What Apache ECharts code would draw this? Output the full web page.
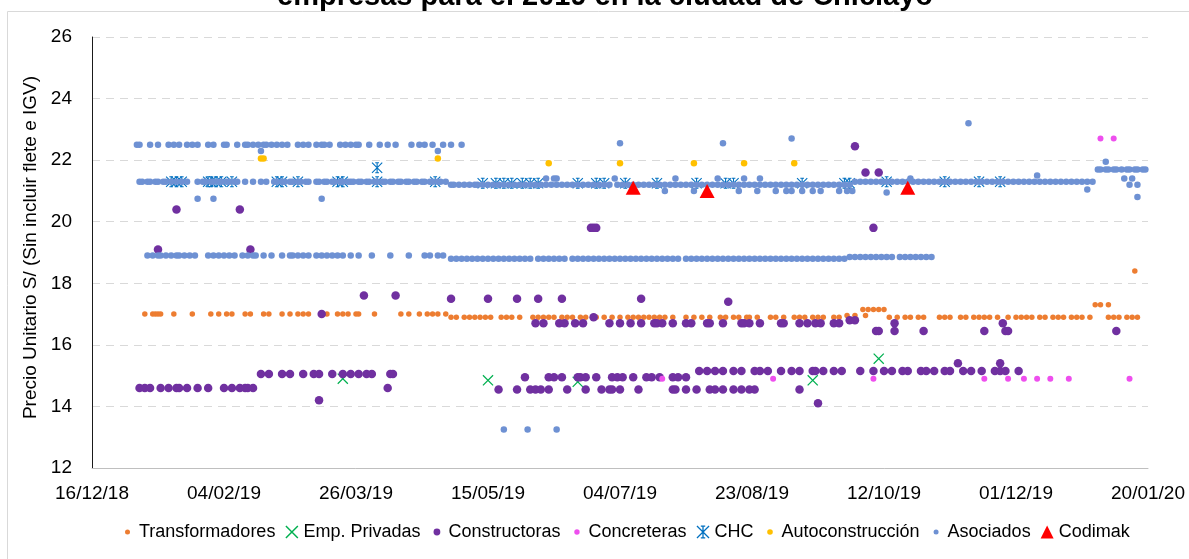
<!DOCTYPE html>
<html>
<head>
<meta charset="utf-8">
<script src="https://cdn.jsdelivr.net/npm/echarts@6/dist/echarts.min.js"></script>
<style>
  html, body { margin: 0; padding: 0; background: #fff; }
  #chart { width: 1189px; height: 559px; }
</style>
</head>
<body>
<div id="chart"></div>
<script>
// [día del año 2019 (1 = 01/01/19), precio S/]
const transformadores = [
  [5,17],[8,17],[9,17],[10,17],[11,17],[16,17],[23,17],[30,17],[33,17],[36,17],[38,17],[43,17],[45,17],[50,17],[52,17],
  [57,17],[60,17],[63,17],[65,17],[67,17],[74,17],[78,17],[80,17],[82,17],[85,17],[86,17],[92,17],[102,17],[105,17],
  [109,17],[112,17],[114,17],[116,17],[119,17],
  [121,16.9],[123,16.9],[126,16.9],[128,16.9],[130,16.9],[132,16.9],[134,16.9],[136,16.9],[140,16.9],[142,16.9],[144,16.9],
  [147,16.9],[152,16.9],[154,16.9],[156,16.9],[158,16.9],[160,16.9],[163,16.9],[165,16.9],[167,16.9],[170,16.9],[172,16.9],
  [176,16.9],[179,16.9],[182,16.9],[185,16.9],[188,16.9],[190,16.9],[192,16.9],[194,16.9],[196,16.9],[198,16.9],[200,16.9],
  [202,16.9],[205,16.9],[210,16.9],[213,16.9],[216,16.9],[219,16.9],[223,16.9],[225,16.9],[228,16.9],[230,16.9],[233,16.9],
  [234,16.9],[237,16.9],[242,16.9],[244,16.9],[247,16.9],[251,16.9],[253,16.9],[255,16.9],[258,16.9],[260,16.9],[262,16.9],
  [266,16.9],[268,16.9],[271,16.95],[274,16.95],[278,16.95],
  [277,17.15],[279,17.15],[281,17.15],[283,17.15],[285,17.15],
  [287,16.9],[290,16.9],[293,16.9],[295,16.9],[298,16.9],[300,16.9],[306,16.9],[308,16.9],[310,16.9],[314,16.9],[316,16.9],
  [319,16.9],[321,16.9],[323,16.9],[325,16.9],[328,16.9],[332,16.9],[335,16.9],[337,16.9],[339,16.9],[341,16.9],[344,16.9],
  [346,16.9],[349,16.9],[351,16.9],[353,16.9],[356,16.9],[358,16.9],[360,16.9],[363,16.9],[370,16.9],[372,16.9],[374,16.9],
  [377,16.9],[379,16.9],[381,16.9],
  [365,17.3],[367,17.3],[370,17.3],[380,18.4]
];
const empPrivadas = [[80,14.9],[135,14.85],[169,14.8],[258,14.85],[283,15.55]];
const constructoras = [
  [10,19.1],[45,19.1],[17,20.4],[41,20.4],[88,17.6],[100,17.6],[121,17.5],[135,17.5],[146,17.5],[154,17.5],[163,17.5],
  [193,17.5],[226,17.4],[72,17],[175,16.9],
  [3,14.6],[5,14.6],[7,14.6],[11,14.6],[14,14.6],[17,14.6],[18,14.6],[21,14.6],[25,14.6],[29,14.6],[35,14.6],[38,14.6],
  [41,14.6],[43,14.6],[44,14.6],[46,14.6],[97,14.6],
  [49,15.05],[52,15.05],[57,15.05],[60,15.05],[65,15.05],[69,15.05],[71,15.05],[76,15.05],[80,15.05],[83,15.05],[86,15.05],
  [89,15.05],[91,15.05],[98,15.05],[99,15.05],[71,14.2],
  [153,16.7],[156,16.7],[162,16.7],[164,16.7],[168,16.7],[171,16.7],[181,16.7],[185,16.7],[189,16.7],[193,16.7],[198,16.7],
  [199,16.7],[201,16.7],[205,16.7],[210,16.7],[212,16.7],[218,16.7],[219,16.7],[224,16.7],[231,16.7],[232,16.7],[234,16.7],
  [238,16.7],[246,16.7],[247,16.7],[253,16.7],[256,16.7],[259,16.7],[261,16.7],[266,16.7],[268,16.7],[272,16.8],[274,16.8],
  [282,16.45],[283,16.45],[289,16.45],[300,16.45],[323,16.45],[331,16.45],[332,16.45],[373,16.45],[289,16.7],[330,16.7],
  [215,15.15],[218,15.15],[221,15.15],[224,15.15],[228,15.15],[231,15.15],[236,15.15],[238,15.15],[241,15.15],[246,15.15],
  [250,15.15],[253,15.15],[258,15.15],[259,15.15],[262,15.15],[266,15.15],[269,15.15],[276,15.15],[281,15.15],[285,15.15],
  [288,15.15],[292,15.15],[294,15.15],[299,15.15],[301,15.15],[304,15.15],[308,15.15],[310,15.15],[315,15.15],[318,15.15],
  [322,15.15],[327,15.15],[329,15.15],[331,15.15],[336,15.15],[313,15.4],[329,15.4],
  [149,14.95],[158,14.95],[160,14.95],[163,14.95],[169,14.95],[170,14.95],[172,14.95],[176,14.95],[182,14.95],[184,14.95],
  [186,14.95],[190,14.95],[195,14.95],[197,14.95],[200,14.95],[205,14.95],[207,14.95],[210,14.95],
  [139,14.55],[146,14.55],[151,14.55],[153,14.55],[155,14.55],[158,14.55],[165,14.55],[172,14.55],[178,14.55],[181,14.55],
  [182,14.55],[185,14.55],[192,14.55],[205,14.55],[206,14.55],[210,14.55],[214,14.55],[219,14.55],[221,14.55],[224,14.55],
  [228,14.55],[231,14.55],[234,14.55],[236,14.55],[253,14.55],[260,14.1],
  [174,19.8],[175,19.8],[176,19.8],[281,19.8],[274,22.45],[278,21.6],[283,21.6]
];
const concreteras = [
  [201,14.9],[243,14.9],[281,14.9],[323,14.9],[332,14.9],[338,14.9],[343,14.9],[348,14.9],[355,14.9],[378,14.9],
  [367,22.7],[372,22.7]
];
const chc = [
  [15,21.3],[17,21.3],[19,21.3],[29,21.3],[30,21.3],[32,21.3],[34,21.3],[38,21.3],[55,21.3],[57,21.3],[63,21.3],[78,21.3],
  [80,21.3],[93,21.3],[93,21.75],[115,21.3],
  [133,21.25],[138,21.25],[141,21.25],[144,21.25],[148,21.25],[151,21.25],[154,21.25],[169,21.25],[176,21.25],[179,21.25],
  [187,21.25],[199,21.25],[214,21.25],[225,21.25],[228,21.25],[254,21.25],[270,21.25],[272,21.25],
  [286,21.3],[308,21.3],[321,21.3],[329,21.3]
];
const autoconstruccion = [[49,22.05],[50,22.05],[116,22.05],[158,21.9],[185,21.9],[213,21.9],[232,21.9],[251,21.9]];
const asociados = [
  [2,22.5],[3,22.5],[7,22.5],[10,22.5],[14,22.5],[16,22.5],[18,22.5],[21,22.5],[23,22.5],[25,22.5],[29,22.5],[31,22.5],
  [35,22.5],[36,22.5],[40,22.5],[43,22.5],[44,22.5],[46,22.5],[48,22.5],[50,22.5],[51,22.5],[53,22.5],[55,22.5],[57,22.5],
  [59,22.5],[63,22.5],[65,22.5],[67,22.5],[70,22.5],[72,22.5],[73,22.5],[75,22.5],[79,22.5],[81,22.5],[83,22.5],[85,22.5],
  [86,22.5],[90,22.5],[94,22.5],[97,22.5],[100,22.5],[106,22.5],[109,22.5],[111,22.5],[114,22.5],[118,22.5],[121,22.5],
  [125,22.5],[49,22.3],[116,22.3],[25,20.75],[31,20.75],[72,20.75],
  [3,21.3],[4,21.3],[6,21.3],[7,21.3],[9,21.3],[10,21.3],[12,21.3],[13,21.3],[15,21.3],[17,21.3],[19,21.3],[21,21.3],
  [25,21.3],[27,21.3],[28,21.3],[30,21.3],[31,21.3],[33,21.3],[34,21.3],[36,21.3],[37,21.3],[39,21.3],[40,21.3],[43,21.3],
  [46,21.3],[49,21.3],[51,21.3],[54,21.3],[55,21.3],[57,21.3],[58,21.3],[60,21.3],[61,21.3],[63,21.3],[64,21.3],[66,21.3],
  [67,21.3],[70,21.3],[71,21.3],[73,21.3],[74,21.3],[76,21.3],[77,21.3],[79,21.3],[80,21.3],[82,21.3],[83,21.3],[84,21.3],
  [86,21.3],[87,21.3],[89,21.3],[90,21.3],[92,21.3],[93,21.3],[95,21.3],[96,21.3],[98,21.3],[99,21.3],[101,21.3],[102,21.3],
  [104,21.3],[105,21.3],[107,21.3],[108,21.3],[110,21.3],[111,21.3],[113,21.3],[114,21.3],[116,21.3],[117,21.3],[119,21.3],
  [121,21.2],[122,21.2],[124,21.2],[126,21.2],[128,21.2],[130,21.2],[131,21.2],[133,21.2],[135,21.2],[137,21.2],[139,21.2],
  [141,21.2],[143,21.2],[145,21.2],[147,21.2],[149,21.2],[151,21.2],[153,21.2],[155,21.2],[157,21.2],[159,21.2],[161,21.2],
  [163,21.2],[165,21.2],[167,21.2],[169,21.2],[171,21.2],[173,21.2],[175,21.2],[177,21.2],[179,21.2],[181,21.2],[184,21.2],
  [186,21.2],[188,21.2],[190,21.2],[192,21.2],[194,21.2],[196,21.2],[198,21.2],[200,21.2],[202,21.2],[204,21.2],[206,21.2],
  [208,21.2],[210,21.2],[212,21.2],[214,21.2],[216,21.2],[218,21.2],[220,21.2],[222,21.2],[224,21.2],[226,21.2],[228,21.2],
  [230,21.2],[232,21.2],[234,21.2],[236,21.2],[238,21.2],[240,21.2],[242,21.2],[244,21.2],[246,21.2],[248,21.2],[250,21.2],
  [252,21.2],[254,21.2],[256,21.2],[258,21.2],[260,21.2],[262,21.2],[264,21.2],[266,21.2],[268,21.2],[270,21.2],[272,21.2],
  [157,21.4],[160,21.4],[161,21.4],[183,21.4],[206,21.4],[222,21.4],[232,21.4],[238,21.4],[295,21.4],[376,21.4],[379,21.4],
  [202,21],[213,21],[230,21],[237,21],[244,21],[248,21],[250,21],[254,21],[258,21],[261,21],[268,21],[271,21],[273,21],
  [286,20.95],[362,21.05],[185,22.55],[224,22.55],[250,22.7],[317,23.2],[343,21.5],[369,21.95],
  [274,21.3],[276,21.3],[278,21.3],[280,21.3],[282,21.3],[284,21.3],[286,21.3],[288,21.3],[290,21.3],[292,21.3],[294,21.3],
  [296,21.3],[298,21.3],[300,21.3],[302,21.3],[304,21.3],[306,21.3],[308,21.3],[310,21.3],[312,21.3],[314,21.3],[316,21.3],
  [318,21.3],[320,21.3],[322,21.3],[324,21.3],[326,21.3],[328,21.3],[330,21.3],[332,21.3],[334,21.3],[336,21.3],[338,21.3],
  [340,21.3],[342,21.3],[344,21.3],[346,21.3],[348,21.3],[350,21.3],[352,21.3],[354,21.3],[356,21.3],[358,21.3],[360,21.3],
  [362,21.3],[364,21.3],
  [366,21.7],[367,21.7],[369,21.7],[370,21.7],[372,21.7],[373,21.7],[375,21.7],[377,21.7],[378,21.7],[380,21.7],[381,21.7],
  [383,21.7],[384,21.7],[378,21.2],[381,21.2],[381,20.8],
  [6,18.9],[8,18.9],[10,18.9],[11,18.9],[13,18.9],[15,18.9],[17,18.9],[18,18.9],[20,18.9],[22,18.9],[24,18.9],[29,18.9],
  [31,18.9],[33,18.9],[35,18.9],[37,18.9],[39,18.9],[42,18.9],[44,18.9],[46,18.9],[47,18.9],[50,18.9],[53,18.9],[57,18.9],
  [60,18.9],[61,18.9],[63,18.9],[65,18.9],[67,18.9],[70,18.9],[72,18.9],[74,18.9],[76,18.9],[78,18.9],[80,18.9],[83,18.9],
  [86,18.9],[91,18.9],[98,18.9],[105,18.9],[111,18.9],[113,18.9],[116,18.9],[118,18.9],
  [121,18.8],[123,18.8],[125,18.8],[127,18.8],[129,18.8],[131,18.8],[133,18.8],[135,18.8],[137,18.8],[139,18.8],[141,18.8],
  [143,18.8],[145,18.8],[147,18.8],[149,18.8],[151,18.8],[154,18.8],[156,18.8],[158,18.8],[160,18.8],[162,18.8],[164,18.8],
  [167,18.8],[169,18.8],[171,18.8],[173,18.8],[175,18.8],[177,18.8],[179,18.8],[181,18.8],[183,18.8],[185,18.8],[187,18.8],
  [189,18.8],[191,18.8],[193,18.8],[195,18.8],[197,18.8],[199,18.8],[201,18.8],[203,18.8],[205,18.8],[207,18.8],[210,18.8],
  [212,18.8],[214,18.8],[216,18.8],[218,18.8],[220,18.8],[222,18.8],[224,18.8],[226,18.8],[228,18.8],[230,18.8],[232,18.8],
  [234,18.8],[236,18.8],[238,18.8],[240,18.8],[242,18.8],[244,18.8],[246,18.8],[248,18.8],[250,18.8],[252,18.8],[254,18.8],
  [256,18.8],[258,18.8],[260,18.8],[262,18.8],[264,18.8],[266,18.8],[268,18.8],[270,18.8],
  [272,18.85],[274,18.85],[276,18.85],[278,18.85],[280,18.85],[282,18.85],[284,18.85],[286,18.85],[288,18.85],[291,18.85],
  [293,18.85],[295,18.85],[297,18.85],[299,18.85],[301,18.85],[303,18.85],
  [141,13.25],[150,13.25],[161,13.25]
];
const codimak = [[190,21.1],[218,21],[294,21.1]];

const seriesNames = ['Transformadores', 'Emp. Privadas', 'Constructoras', 'Concreteras', 'CHC', 'Autoconstrucción', 'Asociados', 'Codimak'];
const yTicks = { min: 12, max: 26, step: 2 };
const xStart = Date.UTC(2018, 11, 16);   // eje x en días desde 16/12/18
const xDays = 400, xStep = 50;

const DAY = 86400000;
const FONT = "'Liberation Sans', Arial, sans-serif";
// día 2019 -> días desde 16/12/18
const pts = arr => arr.map(([d, p]) => [d + 15, p]);
const fmtDate = v => {
  const d = new Date(xStart + v * DAY);
  const p = n => String(n).padStart(2, '0');
  return p(d.getUTCDate()) + '/' + p(d.getUTCMonth() + 1) + '/' + p(d.getUTCFullYear() % 100);
};

const xPath = 'path://M0,0.8L0.8,0L10,9.2L9.2,10ZM9.2,0L10,0.8L0.8,10L0,9.2Z';
const starPath = 'path://M0,0.7L0.7,0L10,9.3L9.3,10ZM9.3,0L10,0.7L0.7,10L0,9.3ZM4.5,0L5.5,0L5.5,10L4.5,10ZM3.3,0L6.7,0L6.7,0.9L3.3,0.9ZM3.3,9.1L6.7,9.1L6.7,10L3.3,10Z';
// punto pequeño dentro de una caja de 13x13 para la leyenda
const dot = r => `path://M0,0M13,13M${6.5 - r},6.5A${r},${r},0,1,1,${6.5 + r},6.5A${r},${r},0,1,1,${6.5 - r},6.5Z`;

const chart = echarts.init(document.getElementById('chart'), null, { renderer: 'canvas' });
chart.setOption({
  animation: false,
  textStyle: { fontFamily: FONT },
  title: {
    text: 'empresas para el 2019 en la ciudad de Chiclayo',
    left: 272, top: -23,
    textStyle: { fontSize: 29, fontWeight: 'bold', color: '#000', fontFamily: FONT }
  },
  graphic: [
    { type: 'line', shape: { x1: 7.5, y1: 11.5, x2: 1189, y2: 11.5 }, style: { stroke: '#D9D9D9', lineWidth: 1 } },
    { type: 'line', shape: { x1: 7.5, y1: 11.5, x2: 7.5, y2: 559 }, style: { stroke: '#D9D9D9', lineWidth: 1 } }
  ],
  grid: { left: 92, right: 41, top: 37, bottom: 91 },
  legend: {
    left: 116, top: 518,
    itemWidth: 13, itemHeight: 13, itemGap: 10,
    textStyle: { fontSize: 18, color: '#000', fontFamily: FONT },
    data: [
      { name: 'Transformadores', icon: dot(2.5) },
      { name: 'Emp. Privadas', icon: xPath },
      { name: 'Constructoras', icon: dot(3.4) },
      { name: 'Concreteras', icon: dot(2.7) },
      { name: 'CHC', icon: starPath },
      { name: 'Autoconstrucción', icon: dot(2.8) },
      { name: 'Asociados', icon: dot(2.5) },
      { name: 'Codimak', icon: 'triangle' }
    ]
  },
  xAxis: {
    type: 'value', min: 0, max: xDays, interval: xStep,
    axisLine: { show: true, lineStyle: { color: '#BFBFBF', width: 1 } },
    axisTick: { show: false },
    splitLine: { show: false },
    axisLabel: { formatter: fmtDate, fontSize: 19, color: '#000', margin: 16, fontFamily: FONT }
  },
  yAxis: {
    type: 'value', min: yTicks.min, max: yTicks.max, interval: yTicks.step,
    name: 'Precio Unitario S/ (Sin incluir flete e IGV)',
    nameLocation: 'middle', nameGap: 50,
    nameTextStyle: { fontSize: 19, color: '#000', fontFamily: FONT, padding: [0, 0, 0, 10] },
    axisLine: { show: true, lineStyle: { color: '#1A1A1A', width: 1 } },
    axisTick: { show: false },
    axisLabel: { fontSize: 19, color: '#000', margin: 20, fontFamily: FONT },
    splitLine: { lineStyle: { color: '#D9D9D9', width: 1, type: [8, 6] } }
  },
  series: [
    { name: seriesNames[0], type: 'scatter', data: pts(transformadores), symbol: 'circle', symbolSize: 5.5, itemStyle: { color: '#ED7D31', opacity: 1 } },
    { name: seriesNames[1], type: 'scatter', data: pts(empPrivadas), symbol: xPath, symbolSize: 11, itemStyle: { color: '#00B050', opacity: 1 } },
    { name: seriesNames[2], type: 'scatter', data: pts(constructoras), symbol: 'circle', symbolSize: 8.5, itemStyle: { color: '#7030A0', opacity: 1 } },
    { name: seriesNames[3], type: 'scatter', data: pts(concreteras), symbol: 'circle', symbolSize: 6, itemStyle: { color: '#EE4FEE', opacity: 1 } },
    { name: seriesNames[4], type: 'scatter', data: pts(chc), symbol: starPath, symbolSize: 11, itemStyle: { color: '#0070C0', opacity: 1 } },
    { name: seriesNames[5], type: 'scatter', data: pts(autoconstruccion), symbol: 'circle', symbolSize: 6.5, itemStyle: { color: '#FFC000', opacity: 1 } },
    { name: seriesNames[6], type: 'scatter', data: pts(asociados), symbol: 'circle', symbolSize: 6.5, itemStyle: { color: '#6E91D3', opacity: 1 } },
    { name: seriesNames[7], type: 'scatter', data: pts(codimak), symbol: 'triangle', symbolSize: [15, 14], itemStyle: { color: '#FF0000', opacity: 1 } }
  ]
});
window.addEventListener('resize', () => chart.resize());
</script>
</body>
</html>
